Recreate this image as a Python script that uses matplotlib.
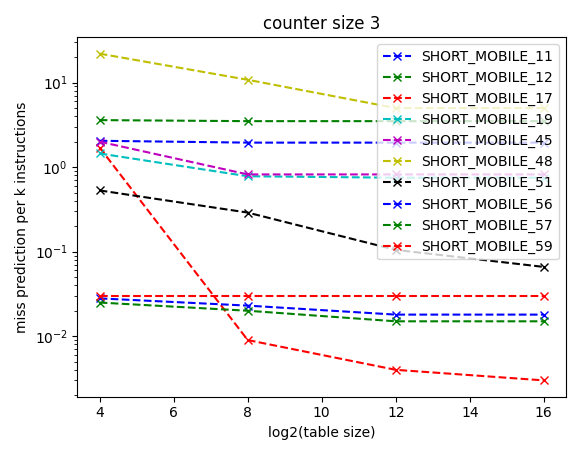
import matplotlib
matplotlib.use("Agg")
import matplotlib.pyplot as plt

x = [4, 8, 12, 16]
names = ["SHORT_MOBILE_11","SHORT_MOBILE_12","SHORT_MOBILE_17","SHORT_MOBILE_19","SHORT_MOBILE_45",
         "SHORT_MOBILE_48","SHORT_MOBILE_51","SHORT_MOBILE_56","SHORT_MOBILE_57","SHORT_MOBILE_59"]
s11 = [2.05, 1.95, 1.95, 1.95]
s12 = [3.6, 3.5, 3.5, 3.5]
s17 = [1.7, 0.009, 0.004, 0.003]
s19 = [1.45, 0.78, 0.75, 0.75]
s45 = [2.0, 0.82, 0.82, 0.82]
s48 = [22, 10.8, 5.0, 5.0]
s51 = [0.53, 0.29, 0.105, 0.066]
s56 = [0.028, 0.023, 0.018, 0.018]
s57 = [0.025, 0.020, 0.015, 0.015]
s59 = [0.030, 0.030, 0.030, 0.030]
series = [s11, s12, s17, s19, s45, s48, s51, s56, s57, s59]
colors = ["b","g","r","c","m","y","k","b","g","r"]

fig, ax = plt.subplots(figsize=(5.81, 4.55), dpi=100)
for n, s, c in zip(names, series, colors):
    ax.plot(x, s, "--x", color=c, label=n)
ax.set_yscale("log")
ax.set_title("counter size 3")
ax.set_xlabel("log2(table size)")
ax.set_ylabel("miss prediction per k instructions")
ax.legend(loc="upper right")
fig.tight_layout()
fig.savefig("out.png")
